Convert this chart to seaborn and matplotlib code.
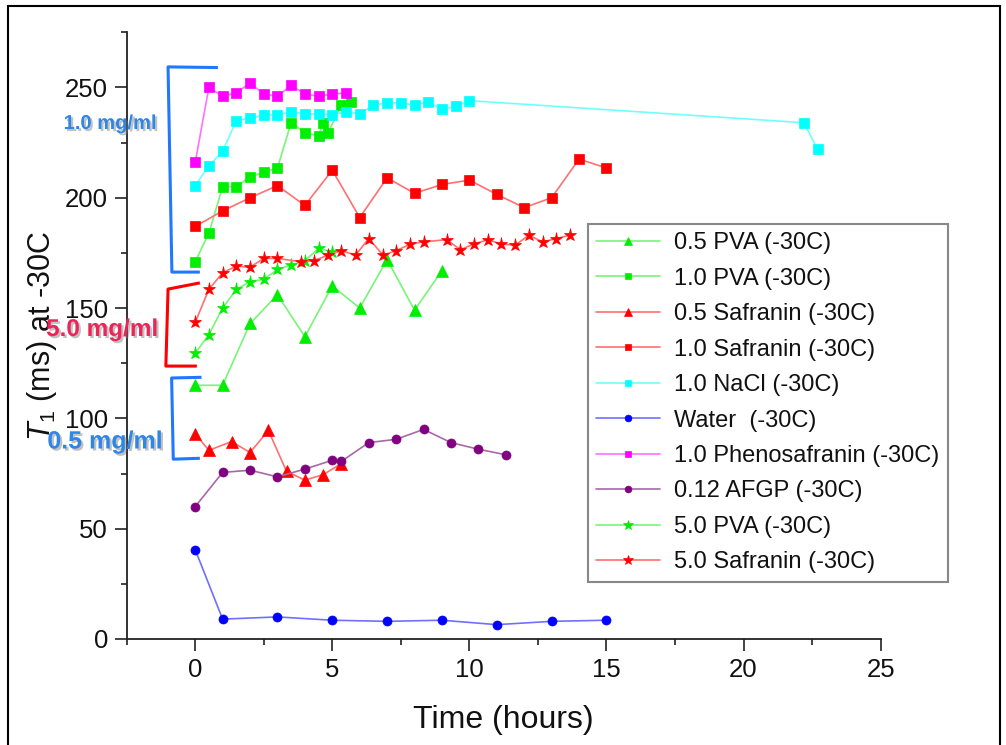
import numpy as np
import pandas as pd
import matplotlib
matplotlib.use("Agg")
import matplotlib.pyplot as plt
import seaborn as sns
from matplotlib import patheffects as pe
from matplotlib.patches import Rectangle
from matplotlib.ticker import MultipleLocator

# ---------------- data ----------------
pva05_x = [0, 1, 2, 3, 4, 5, 6, 7, 8, 9]
pva05_y = [115, 115, 143, 156, 137, 160, 150, 172, 149, 167]

pva10_x = [0, 0.5, 1, 1.5, 2, 2.5, 3, 3.5, 4, 4.5, 4.67, 4.85, 5.33, 5.67]
pva10_y = [171, 184, 205, 205, 209.5, 211.5, 213.5, 234, 229.5, 228, 234, 229.5, 242, 243.5]

saf05_x = [0, 0.5, 1.33, 2, 2.67, 3.33, 4, 4.67, 5.33]
saf05_y = [93, 85.5, 89.5, 84.5, 94.5, 76, 72, 74.5, 79.5]

saf10_x = [0, 1, 2, 3, 4, 5, 6, 7, 8, 9, 10, 11, 12, 13, 14, 15]
saf10_y = [187, 194, 200, 205.5, 196.5, 212.5, 191, 209, 202, 206, 208, 201.5, 195.5, 200, 217.5, 213.5]

nacl_x = [0, 0.5, 1, 1.5, 2, 2.5, 3, 3.5, 4, 4.5, 5, 5.5, 6, 6.5, 7, 7.5, 8, 8.5, 9, 9.5, 10, 22.2, 22.7]
nacl_y = [205.5, 214.5, 221, 235, 236, 237.5, 237.5, 239, 238, 238, 237.5, 239, 238, 242, 243, 243,
          242, 243.5, 240, 241.5, 244, 234, 222]

water_x = [0, 1, 3, 5, 7, 9, 11, 13, 15]
water_y = [40.5, 9, 10, 8.5, 8, 8.5, 6.5, 8, 8.5]

phen_x = [0, 0.5, 1, 1.5, 2, 2.5, 3, 3.5, 4, 4.5, 5, 5.5]
phen_y = [216, 250, 246, 247.5, 252, 247, 246, 251, 247, 246, 247, 247.5]

afgp_x = [0, 1, 2, 3, 4, 5, 5.33, 6.33, 7.33, 8.33, 9.33, 10.33, 11.33]
afgp_y = [60, 75.5, 76.5, 73.5, 77, 81, 80.5, 89, 90.5, 95, 89, 86, 83.5]

pva50_x = [0, 0.5, 1, 1.5, 2, 2.5, 3, 3.5, 4, 4.5, 5]
pva50_y = [129.5, 138, 150, 158.5, 162, 163, 167.5, 169.5, 171.5, 177, 175.5]

saf50_x = [0, 0.5, 1, 1.5, 2, 2.5, 3, 3.85, 4.33, 4.85, 5.33, 5.85, 6.33, 6.85, 7.33, 7.85, 8.33,
           9.17, 9.67, 10.17, 10.67, 11.17, 11.67, 12.17, 12.67, 13.17, 13.67]
saf50_y = [143.5, 158.5, 166, 169, 168.5, 172.5, 172.5, 171, 171.5, 174, 176, 174, 181.5, 174, 176,
           179, 180, 181, 176.5, 179, 181, 179, 178.5, 183, 180, 181.5, 183]

labels = ["0.5 PVA (-30C)", "1.0 PVA (-30C)", "0.5 Safranin (-30C)", "1.0 Safranin (-30C)",
          "1.0 NaCl (-30C)", "Water  (-30C)", "1.0 Phenosafranin (-30C)", "0.12 AFGP (-30C)",
          "5.0 PVA (-30C)", "5.0 Safranin (-30C)"]

# bracket annotations (data coords)
br1_x = [0.83, -0.99, -0.85, 0.17]
br1_y = [259.0, 259.3, 166.3, 166.3]
br5_x = [0.17, -0.99, -1.07, 0.06]
br5_y = [161.4, 158.6, 123.7, 123.7]
br05_x = [0.23, -0.86, -0.80, 0.17]
br05_y = [118.6, 118.3, 81.5, 81.9]

# ---------------- styles ----------------
series = [
    (pva05_x, pva05_y, "#00ee00", "#77f577", "^", 8),
    (pva10_x, pva10_y, "#00ee00", "#77f577", "s", 6.5),
    (saf05_x, saf05_y, "#ff0000", "#ff7070", "^", 8),
    (saf10_x, saf10_y, "#ff0000", "#ff7070", "s", 6.5),
    (nacl_x, nacl_y, "#00ffff", "#70ffff", "s", 6.5),
    (water_x, water_y, "#0000ff", "#7070ff", "o", 6.5),
    (phen_x, phen_y, "#ff00ff", "#ff70ff", "s", 6.5),
    (afgp_x, afgp_y, "#800080", "#a868a8", "o", 6.5),
    (pva50_x, pva50_y, "#00ee00", "#77f577", "*", 9.5),
    (saf50_x, saf50_y, "#ff0000", "#ff7070", "*", 9.5),
]

sns.set_theme(style="white")
plt.rcParams["font.family"] = ["Liberation Sans", "DejaVu Sans"]
plt.rcParams["mathtext.fontset"] = "custom"
plt.rcParams["mathtext.rm"] = "Liberation Sans"
plt.rcParams["mathtext.it"] = "Liberation Sans:italic"

fig = plt.figure(figsize=(10.06, 7.45), dpi=100)
ax = fig.add_axes([0.1259, 0.1423, 0.7495, 0.8144])

for (xs, ys, mc, lc, mk, ms), lab in zip(series, labels):
    sns.lineplot(x=xs, y=ys, ax=ax, color=lc, linewidth=1.2, marker=mk, markersize=ms,
                 markerfacecolor=mc, markeredgecolor=mc, markeredgewidth=0.5,
                 estimator=None, sort=False, label=lab, legend=False)

ax.set_xlim(-2.5, 25)
ax.set_ylim(0, 275)
ax.xaxis.set_major_locator(MultipleLocator(5))
ax.xaxis.set_minor_locator(MultipleLocator(2.5))
ax.yaxis.set_major_locator(MultipleLocator(50))
ax.yaxis.set_minor_locator(MultipleLocator(25))

for s in ["top", "right"]:
    ax.spines[s].set_visible(False)
for s in ["left", "bottom"]:
    ax.spines[s].set_color("#222222")
    ax.spines[s].set_linewidth(1.3)

ax.tick_params(which="both", bottom=True, left=True, direction="out", color="#222222", width=1.2)
ax.tick_params(which="major", length=8.5, labelsize=18.5, pad=5, labelcolor="#111111")
ax.tick_params(which="minor", length=4)

ax.set_xlabel("Time (hours)", fontsize=23, color="#111111")
ax.set_ylabel(r"$\mathit{T}_{\mathrm{1}}$ (ms) at -30C", fontsize=22, color="#111111")
ax.xaxis.set_label_coords(0.5, -0.108)
ax.xaxis.label.set_va("top")
ax.yaxis.set_label_coords(-0.09, 0.5)

# brackets
ax.plot(br1_x, br1_y, color="#2277ff", lw=2.2, clip_on=False, solid_capstyle="butt")
ax.plot(br5_x, br5_y, color="#ff0000", lw=2.2, clip_on=False, solid_capstyle="butt")
ax.plot(br05_x, br05_y, color="#2277ff", lw=2.2, clip_on=False, solid_capstyle="butt")

shadow = [pe.withSimplePatchShadow(offset=(1.5, -1.5), shadow_rgbFace="#777777", alpha=0.45)]
fig.text(110 / 1006, 1 - 123.5 / 745, "1.0 mg/ml", fontsize=14.5, fontweight="bold", color="#2f86e6",
         ha="center", va="center", path_effects=shadow)
fig.text(102 / 1006, 1 - 329.5 / 745, "5.0 mg/ml", fontsize=17.5, fontweight="bold", color="#ee2458",
         ha="center", va="center", path_effects=shadow)
fig.text(105 / 1006, 1 - 441.5 / 745, "0.5 mg/ml", fontsize=18, fontweight="bold", color="#2f86e6",
         ha="center", va="center", path_effects=shadow)

leg = ax.legend(loc="upper left", bbox_to_anchor=(588 / 1006, 1 - 224 / 745), bbox_transform=fig.transFigure,
                frameon=True, fancybox=False, edgecolor="#888888", framealpha=1, fontsize=17,
                handlelength=2.7, handletextpad=0.6, labelspacing=0.57, borderpad=0.35,
                borderaxespad=0, markerscale=0.75)
leg.get_frame().set_linewidth(1.5)
for t in leg.get_texts():
    t.set_color("#111111")

fig.patches.append(Rectangle((8 / 1006, -0.02), (1000 - 8) / 1006, 1.02 - 5.7 / 745,
                             transform=fig.transFigure, fill=False, edgecolor="black", lw=1.5))

fig.savefig("out.png", dpi=100)
